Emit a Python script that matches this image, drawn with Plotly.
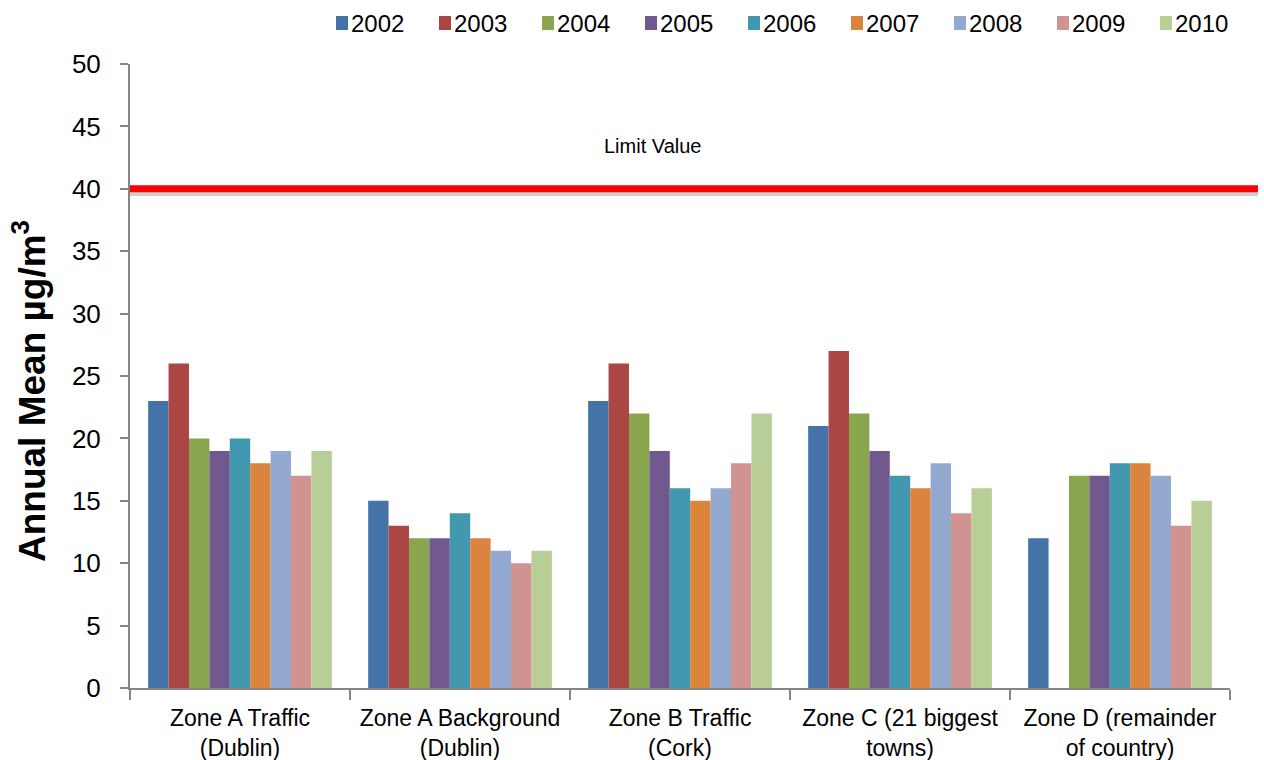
import plotly.graph_objects as go

categories = [
    "Zone A Traffic<br>(Dublin)",
    "Zone A Background<br>(Dublin)",
    "Zone B Traffic<br>(Cork)",
    "Zone C (21 biggest<br>towns)",
    "Zone D (remainder<br>of country)",
]
years = ["2002", "2003", "2004", "2005", "2006", "2007", "2008", "2009", "2010"]

v2002 = [23, 15, 23, 21, 12]
v2003 = [26, 13, 26, 27, None]
v2004 = [20, 12, 22, 22, 17]
v2005 = [19, 12, 19, 19, 17]
v2006 = [20, 14, 16, 17, 18]
v2007 = [18, 12, 15, 16, 18]
v2008 = [19, 11, 16, 18, 17]
v2009 = [17, 10, 18, 14, 13]
v2010 = [19, 11, 22, 16, 15]
series = [v2002, v2003, v2004, v2005, v2006, v2007, v2008, v2009, v2010]

colors = ["#4572A7", "#AA4643", "#89A54E", "#71588F", "#4198AF",
          "#DB843D", "#93A9CF", "#D19392", "#B9CD96"]

limit_value = 40
limit_label = "Limit Value"
y_ticks = [0, 5, 10, 15, 20, 25, 30, 35, 40, 45, 50]

FONT = "Liberation Sans, Arial, sans-serif"

W, H = 1264, 760
ML, MR, MT, MB = 130, 34, 64, 72
PW, PH = W - ML - MR, H - MT - MB


def px_x(p):
    return (p - ML) / PW


def px_y(p):
    return (H - MB - p) / PH


fig = go.Figure()
for yr, vals, col in zip(years, series, colors):
    fig.add_trace(go.Bar(name=yr, x=categories, y=vals, marker_color=col,
                         marker_line_width=0, showlegend=False))

# legend drawn as swatches + text (layout only)
for i, (yr, col) in enumerate(zip(years, colors)):
    x0 = 336 + i * 103
    fig.add_shape(type="rect", xref="paper", yref="paper",
                  x0=px_x(x0), x1=px_x(x0 + 12), y0=px_y(30), y1=px_y(16),
                  fillcolor=col, line=dict(width=0))
    fig.add_annotation(text=yr, xref="paper", yref="paper", x=px_x(x0 + 13), y=px_y(23),
                       xanchor="left", yanchor="middle", showarrow=False,
                       font=dict(family=FONT, size=24, color="black"))

# limit line shadow + line
fig.add_shape(type="line", xref="paper", yref="y", x0=0, x1=px_x(1258),
              y0=limit_value - 0.38, y1=limit_value - 0.38,
              line=dict(color="rgba(150,150,150,0.45)", width=5), layer="above")
fig.add_shape(type="line", xref="paper", yref="y", x0=0, x1=px_x(1258),
              y0=limit_value, y1=limit_value,
              line=dict(color="#FF0000", width=7), layer="above")
fig.add_annotation(text=limit_label, xref="paper", yref="y", x=px_x(652), y=43.4,
                   showarrow=False, font=dict(family=FONT, size=20, color="black"),
                   xanchor="center", yanchor="middle")

# y axis title
fig.add_annotation(text="<b>Annual Mean µg/m<sup>3</sup></b>", xref="paper", yref="paper",
                   x=px_x(29), y=px_y(391), textangle=-90, showarrow=False,
                   font=dict(family=FONT, size=37, color="black"),
                   xanchor="center", yanchor="middle")

fig.update_layout(
    width=W, height=H,
    margin=dict(l=ML, r=MR, t=MT, b=MB, autoexpand=False),
    plot_bgcolor="white", paper_bgcolor="white",
    barmode="group", bargap=0.165, bargroupgap=0,
    font=dict(family=FONT, color="black"),
    showlegend=False,
)
fig.update_xaxes(showgrid=False, showline=True, linecolor="#868686", linewidth=2,
                 ticks="outside", tickson="boundaries", ticklen=10, tickwidth=2,
                 tickcolor="#868686", ticklabelstandoff=8, automargin=False,
                 tickfont=dict(family=FONT, size=23, color="black"))
fig.update_yaxes(range=[0, 50], tickvals=y_ticks, showgrid=False, zeroline=False,
                 showline=True, linecolor="#868686", linewidth=2,
                 ticks="outside", ticklen=8, tickwidth=2, tickcolor="#868686",
                 ticklabelstandoff=14, automargin=False,
                 tickfont=dict(family=FONT, size=26, color="black"))

fig.write_html("out.html")
